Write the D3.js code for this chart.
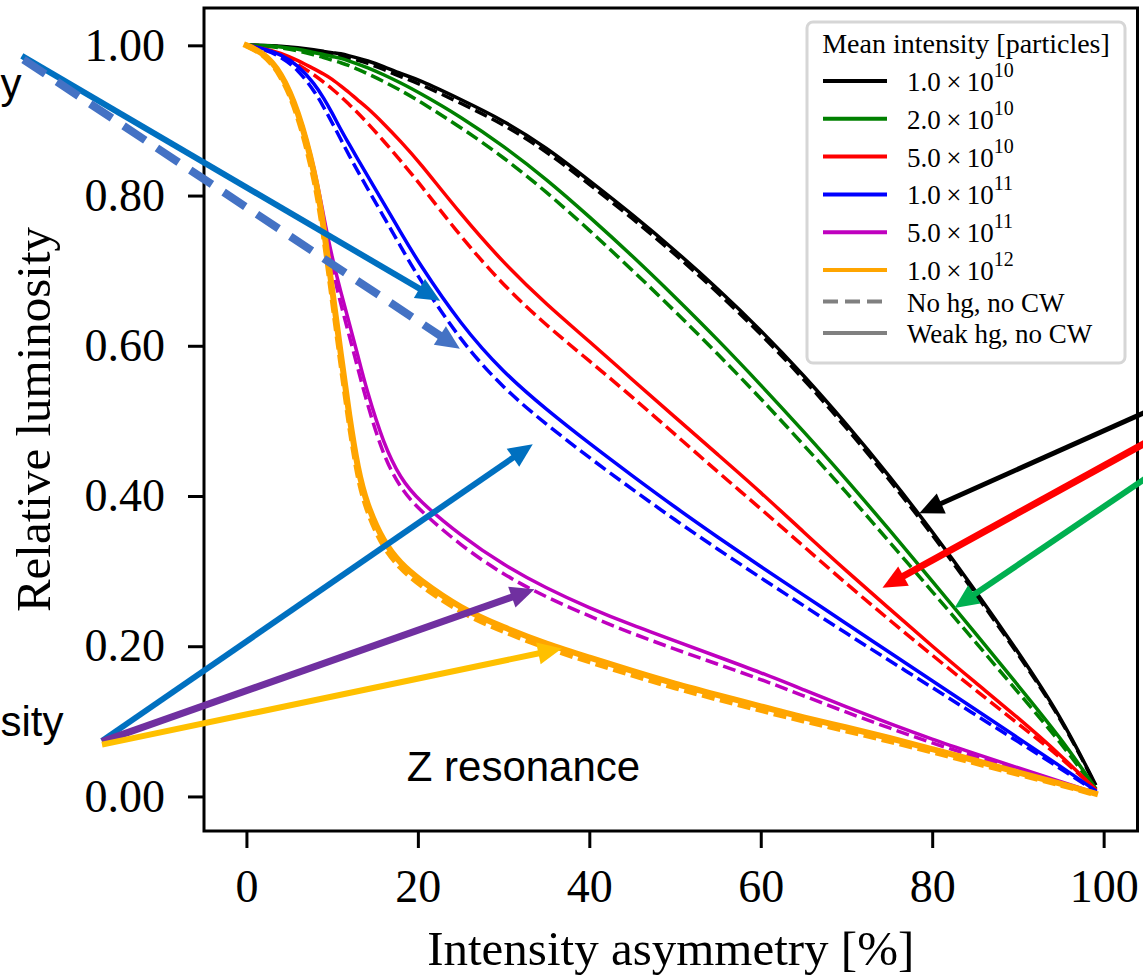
<!DOCTYPE html>
<html>
<head>
<meta charset="utf-8">
<script src="https://cdn.jsdelivr.net/npm/d3@7"></script>
<style>
  html, body { margin: 0; padding: 0; background: #fff; }
  svg { display: block; }
</style>
</head>
<body>
<div id="container"></div>
<script>
// ---- data ----
const asym = [0, 2, 4, 6, 8, 9, 10, 11, 12, 13, 14, 16, 18, 20, 25, 30, 35, 40, 45, 50, 55, 60, 65, 70, 75, 80, 85, 90, 95, 99];

// solid = weak hg, no CW ; dashed = no hg, no CW
const lumi1e10Solid  = [1.000, 1.000, 0.999, 0.997, 0.994, 0.992, 0.990, 0.989, 0.986, 0.983, 0.980, 0.972, 0.962, 0.955, 0.928, 0.900, 0.864, 0.820, 0.775, 0.727, 0.676, 0.621, 0.561, 0.496, 0.427, 0.353, 0.275, 0.193, 0.107, 0.017];
const lumi1e10Dashed = [1.000, 1.000, 0.998, 0.996, 0.992, 0.990, 0.988, 0.986, 0.983, 0.980, 0.977, 0.968, 0.958, 0.950, 0.923, 0.895, 0.859, 0.815, 0.770, 0.722, 0.671, 0.616, 0.556, 0.491, 0.422, 0.349, 0.271, 0.190, 0.105, 0.016];
const lumi2e10Solid  = [1.000, 1.000, 0.998, 0.995, 0.990, 0.988, 0.985, 0.983, 0.979, 0.975, 0.971, 0.961, 0.950, 0.938, 0.905, 0.866, 0.822, 0.772, 0.720, 0.665, 0.608, 0.548, 0.486, 0.422, 0.355, 0.287, 0.218, 0.148, 0.078, 0.012];
const lumi2e10Dashed = [1.000, 0.999, 0.997, 0.993, 0.987, 0.984, 0.980, 0.977, 0.973, 0.968, 0.963, 0.952, 0.940, 0.927, 0.891, 0.851, 0.805, 0.754, 0.701, 0.646, 0.589, 0.530, 0.468, 0.405, 0.339, 0.273, 0.206, 0.139, 0.072, 0.010];
const lumi5e10Solid  = [1.000, 0.996, 0.990, 0.980, 0.968, 0.962, 0.955, 0.946, 0.937, 0.927, 0.918, 0.896, 0.872, 0.847, 0.775, 0.710, 0.655, 0.606, 0.555, 0.505, 0.455, 0.405, 0.352, 0.300, 0.250, 0.200, 0.152, 0.105, 0.055, 0.010];
const lumi5e10Dashed = [1.000, 0.995, 0.987, 0.975, 0.960, 0.951, 0.942, 0.932, 0.921, 0.910, 0.898, 0.873, 0.846, 0.819, 0.745, 0.680, 0.627, 0.580, 0.532, 0.482, 0.432, 0.383, 0.333, 0.283, 0.235, 0.188, 0.142, 0.097, 0.052, 0.010];
const lumi1e11Solid  = [1.000, 0.996, 0.988, 0.974, 0.948, 0.930, 0.910, 0.888, 0.868, 0.848, 0.829, 0.790, 0.751, 0.712, 0.628, 0.564, 0.515, 0.470, 0.427, 0.385, 0.345, 0.306, 0.268, 0.230, 0.192, 0.154, 0.116, 0.078, 0.040, 0.008];
const lumi1e11Dashed = [1.000, 0.995, 0.985, 0.968, 0.938, 0.918, 0.897, 0.875, 0.853, 0.832, 0.812, 0.772, 0.732, 0.692, 0.606, 0.543, 0.495, 0.451, 0.409, 0.368, 0.329, 0.291, 0.254, 0.217, 0.181, 0.145, 0.109, 0.073, 0.037, 0.007];
const lumi5e11Solid  = [1.000, 0.990, 0.966, 0.917, 0.835, 0.772, 0.717, 0.672, 0.630, 0.587, 0.542, 0.469, 0.423, 0.395, 0.347, 0.308, 0.277, 0.251, 0.228, 0.207, 0.186, 0.165, 0.142, 0.119, 0.097, 0.076, 0.057, 0.038, 0.020, 0.005];
const lumi5e11Dashed = [1.000, 0.990, 0.965, 0.915, 0.828, 0.762, 0.703, 0.656, 0.613, 0.570, 0.526, 0.452, 0.410, 0.383, 0.334, 0.295, 0.265, 0.240, 0.217, 0.196, 0.176, 0.156, 0.134, 0.112, 0.091, 0.071, 0.053, 0.035, 0.018, 0.004];
const lumi1e12Solid  = [1.000, 0.990, 0.965, 0.915, 0.830, 0.760, 0.675, 0.590, 0.505, 0.435, 0.390, 0.338, 0.310, 0.290, 0.250, 0.225, 0.203, 0.185, 0.167, 0.150, 0.135, 0.120, 0.105, 0.092, 0.078, 0.063, 0.048, 0.032, 0.017, 0.004];
const lumi1e12Dashed = [1.000, 0.989, 0.963, 0.911, 0.823, 0.752, 0.667, 0.582, 0.497, 0.427, 0.382, 0.331, 0.304, 0.284, 0.245, 0.220, 0.198, 0.180, 0.162, 0.145, 0.130, 0.115, 0.101, 0.088, 0.074, 0.060, 0.045, 0.030, 0.016, 0.003];

const intensityMantissa = ["1.0", "2.0", "5.0", "1.0", "5.0", "1.0"];
const intensityExp      = ["10", "10", "10", "11", "11", "12"];
const seriesColors      = ["#000000", "#008000", "#ff0000", "#0000ff", "#bf00bf", "#ffa500"];
const solidSeries  = [lumi1e10Solid, lumi2e10Solid, lumi5e10Solid, lumi1e11Solid, lumi5e11Solid, lumi1e12Solid];
const dashedSeries = [lumi1e10Dashed, lumi2e10Dashed, lumi5e10Dashed, lumi1e11Dashed, lumi5e11Dashed, lumi1e12Dashed];
const styleLabels  = ["No hg, no CW", "Weak hg, no CW"];

const xTicks = [0, 20, 40, 60, 80, 100];
const yTicks = [0, 0.2, 0.4, 0.6, 0.8, 1.0];

// slide overlay (arrows + notes), placed in the chart's own units
const arrows = [
  { from: [-26.2, 0.986], to: [22.6, 0.660], color: "#0070c0", w: 6 },
  { from: [-26.0, 0.981], to: [24.9, 0.596], color: "#4472c4", w: 8, dash: "26,14" },
  { from: [-16.85, 0.074], to: [33.4, 0.469], color: "#0070c0", w: 6 },
  { from: [-16.85, 0.073], to: [33.6, 0.276], color: "#7030a0", w: 7 },
  { from: [-16.85, 0.069], to: [36.8, 0.197], color: "#ffc000", w: 6 },
  { from: [106.5, 0.520], to: [78.5, 0.377], color: "#000000", w: 5 },
  { from: [106.5, 0.481], to: [74.2, 0.278], color: "#ff0000", w: 7 },
  { from: [106.5, 0.436], to: [82.6, 0.251], color: "#00b050", w: 6 },
];
// only these fragments of the slide notes are visible in the crop
const notes = [
  { text: "Z resonance", at: [18.7, 0.021] },
  { text: "sity", at: [-28.7, 0.081] },
  { text: "y", at: [-28.7, 0.930] },
];

// ---- drawing ----
const width = 1143, height = 977;
const frameL = 204, frameR = 1137.5, frameT = 8, frameB = 831;
const serif = "'Liberation Serif', 'Times New Roman', serif";
const sans = "'Liberation Sans', Arial, sans-serif";

const svg = d3.select("#container").append("svg")
  .attr("width", width).attr("height", height);
svg.append("rect").attr("width", width).attr("height", height).attr("fill", "#fff");

const x = d3.scaleLinear().domain([-4.95, 103.95]).range([frameL, frameR]);
const y = d3.scaleLinear().domain([-0.046, 1.0497]).range([frameB, frameT]);

// axes
const xAxis = svg.append("g")
  .attr("transform", `translate(0,${frameB})`)
  .call(d3.axisBottom(x).tickValues(xTicks).tickSize(17).tickPadding(21).tickFormat(d3.format("d")));
const yAxis = svg.append("g")
  .attr("transform", `translate(${frameL},0)`)
  .call(d3.axisLeft(y).tickValues(yTicks).tickSize(16).tickPadding(23).tickFormat(d3.format(".2f")));
[xAxis, yAxis].forEach(g => {
  g.select(".domain").remove();
  g.selectAll(".tick line").attr("stroke", "#000").attr("stroke-width", 3);
  g.selectAll(".tick text").attr("fill", "#000").style("font-family", serif).style("font-size", "46px");
});

// curves
const line = d3.line()
  .x((d, i) => x(asym[i]))
  .y(d => y(d))
  .curve(d3.curveBasis);

const curves = svg.append("g");
solidSeries.forEach((vals, k) => {
  const lw = k === 5 ? 6 : 3.5;
  curves.append("path").datum(dashedSeries[k])
    .attr("d", line).attr("fill", "none")
    .attr("stroke", seriesColors[k]).attr("stroke-width", lw)
    .attr("stroke-dasharray", "13,5.5");
  curves.append("path").datum(vals)
    .attr("d", line).attr("fill", "none")
    .attr("stroke", seriesColors[k]).attr("stroke-width", lw)
    .attr("stroke-linecap", "square").attr("stroke-linejoin", "round");
});

// frame
svg.append("rect")
  .attr("x", frameL).attr("y", frameT)
  .attr("width", frameR - frameL).attr("height", frameB - frameT)
  .attr("fill", "none").attr("stroke", "#000").attr("stroke-width", 3);

// axis titles
svg.append("text")
  .attr("x", (frameL + frameR) / 2).attr("y", 965)
  .attr("text-anchor", "middle")
  .style("font-family", serif).style("font-size", "49px")
  .text("Intensity asymmetry [%]");
svg.append("text")
  .attr("transform", `translate(50,${(frameT + frameB) / 2}) rotate(-90)`)
  .attr("text-anchor", "middle")
  .style("font-family", serif).style("font-size", "49px")
  .text("Relative luminosity");

// legend
const legend = svg.append("g");
legend.append("rect")
  .attr("x", 807).attr("y", 22).attr("width", 318).attr("height", 341)
  .attr("rx", 6).attr("fill", "#fff").attr("fill-opacity", 0.85)
  .attr("stroke", "#d6d6d6").attr("stroke-width", 3);
legend.append("text")
  .attr("x", 966).attr("y", 53).attr("text-anchor", "middle")
  .style("font-family", serif).style("font-size", "28px")
  .text("Mean intensity [particles]");

const rowY = i => i < 6 ? 91 + 37.8 * i : 280 + 31.5 * (i - 5);
const legendRows = seriesColors.map((c, i) => ({ color: c, mant: intensityMantissa[i], exp: intensityExp[i] }))
  .concat(styleLabels.map((s, j) => ({ color: "#808080", label: s, dashed: j === 0 })));

legendRows.forEach((r, i) => {
  const yy = rowY(i);
  legend.append("line")
    .attr("x1", 823).attr("x2", 887).attr("y1", yy - 10).attr("y2", yy - 10)
    .attr("stroke", r.color).attr("stroke-width", 4)
    .attr("stroke-dasharray", r.dashed ? "15,7" : null);
  const t = legend.append("text")
    .attr("x", 907).attr("y", yy)
    .style("font-family", serif).style("font-size", "27px");
  if (r.label) {
    t.text(r.label);
  } else {
    t.append("tspan").text(`${r.mant}\u2009×\u200910`);
    t.append("tspan").attr("dy", -14).style("font-size", "20px").text(r.exp);
  }
});

// overlay arrows
const overlay = svg.append("g");
arrows.forEach(a => {
  const x0 = x(a.from[0]), y0 = y(a.from[1]);
  const x1 = x(a.to[0]), y1 = y(a.to[1]);
  const len = Math.hypot(x1 - x0, y1 - y0);
  const ux = (x1 - x0) / len, uy = (y1 - y0) / len;
  const hl = 24, hw = 11;
  const bx = x1 - ux * hl, by = y1 - uy * hl;
  overlay.append("line")
    .attr("x1", x0).attr("y1", y0)
    .attr("x2", bx + ux * 2).attr("y2", by + uy * 2)
    .attr("stroke", a.color).attr("stroke-width", a.w)
    .attr("stroke-dasharray", a.dash || null);
  overlay.append("polygon")
    .attr("points", [[x1, y1], [bx - uy * hw, by + ux * hw], [bx + uy * hw, by - ux * hw]].map(p => p.join(",")).join(" "))
    .attr("fill", a.color);
});

notes.forEach(n => {
  overlay.append("text")
    .attr("x", x(n.at[0])).attr("y", y(n.at[1]))
    .style("font-family", sans).style("font-size", "42px")
    .text(n.text);
});
</script>
</body>
</html>
